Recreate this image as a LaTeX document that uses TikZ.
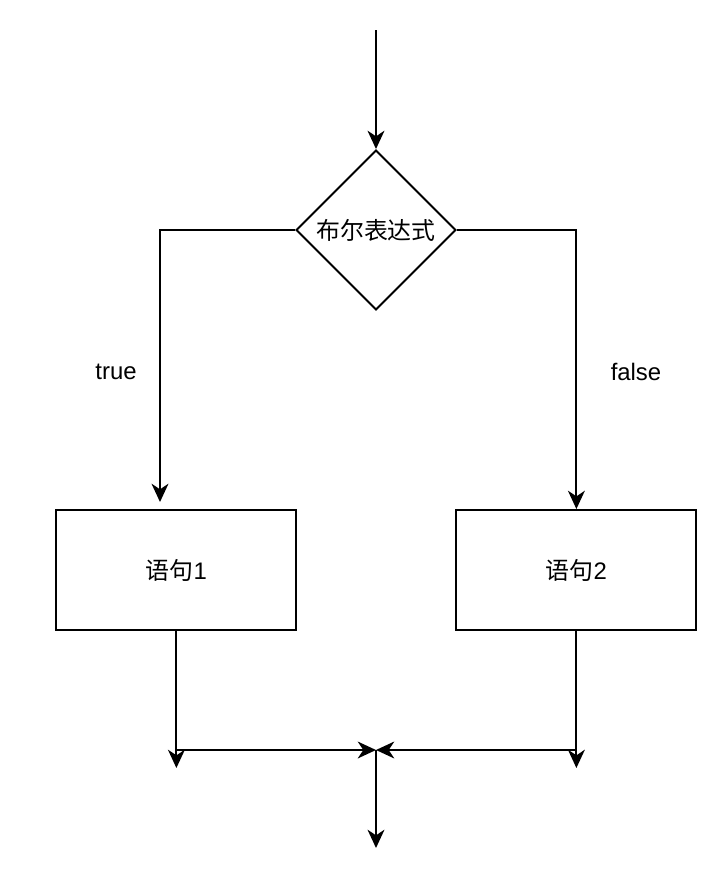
\documentclass[tikz,border=0pt]{standalone}
\usepackage{fontspec}
\setmainfont{Liberation Sans}
\newfontfamily\cjk{Noto Sans CJK SC}
\usetikzlibrary{shapes.geometric, arrows.meta}
\tikzstyle{decision} = [diamond, minimum width=4cm, minimum height=4cm, aspect=1, inner sep=0pt, draw=black, line width=1.4pt]
\tikzstyle{process} = [rectangle, minimum width=6cm, minimum height=3cm, text centered, draw=black, line width=1.4pt]
\tikzstyle{arrow} = [line width=1.4pt, -{Stealth[length=13pt, width=12pt, inset=4pt]}]

\begin{document}
\begin{tikzpicture}[font=\fontsize{17}{20}\selectfont]
\useasboundingbox (0,0) rectangle (17.85,-22.1);
  % Define the blocks
\coordinate (in) at (9.4,-0.75);
\node (cond) [decision] at (9.4,-5.75) {{\cjk 布尔表达式}};
\node (stmt1) [process] at (4.41,-14.25) {{\cjk 语句}1};
\node (stmt2) [process] at (14.41,-14.25) {{\cjk 语句}2};
\coordinate (tip1) at (4,-12.55);
\coordinate (end1) at (4.41,-19.2);
\coordinate (end2) at (14.41,-19.2);
\coordinate (merge) at (9.4,-18.75);
\coordinate (out) at (9.4,-21.2);
\node (true) at (2.9,-9.3) {true};
\node (false) at (15.9,-9.3) {false};

% Draw the arrows
\draw [arrow] (in) -- (cond);
\draw [arrow] (cond.west) -| (tip1);
\draw [arrow] (cond.east) -| (stmt2);
\draw [arrow] (stmt1) -- (end1);
\draw [arrow] (stmt2) -- (end2);
\draw [arrow] (stmt1 |- merge) -- (merge);
\draw [arrow] (stmt2 |- merge) -- (merge);
\draw [arrow] (merge) -- (out);

\end{tikzpicture}
\end{document}
